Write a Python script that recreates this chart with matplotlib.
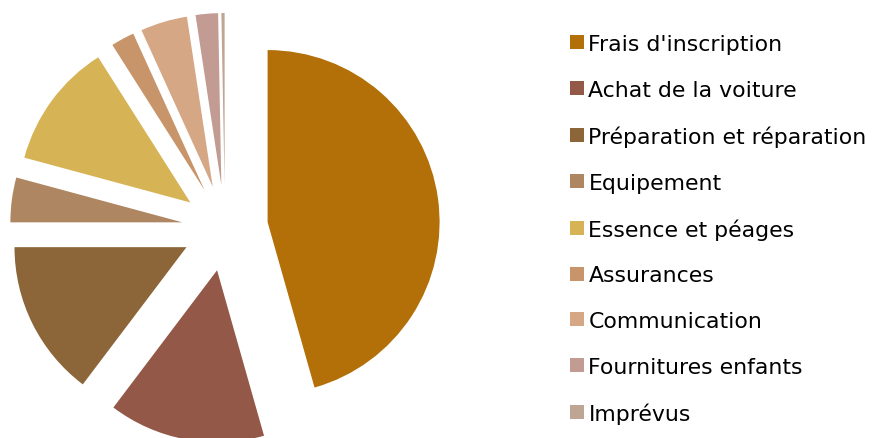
import matplotlib.pyplot as plt
from matplotlib.patches import Patch

# budget shares (%)
categories = ["Frais d'inscription", "Achat de la voiture", "Préparation et réparation",
              "Equipement", "Essence et péages", "Assurances", "Communication",
              "Fournitures enfants", "Imprévus"]
values = [45.6, 14.7, 14.7, 4.2, 11.8, 2.2, 4.4, 2.1, 0.3]
colors = ["#B37009", "#935847", "#8C6639", "#AE8762", "#D6B354",
          "#C8956A", "#D6A784", "#C29C93", "#BFA593"]

plt.rcParams['font.family'] = ['DejaVu Sans']

fig = plt.figure(figsize=(8.74, 4.39), dpi=100)
ax = fig.add_axes([0, 0, 1, 1])

wedges, _ = ax.pie(values, colors=colors, startangle=90, counterclock=False,
                   explode=[0.25] * len(values), radius=1,
                   wedgeprops=dict(linewidth=0))

# pie centre at ~(225, 229) px, radius ~172 px
ax.set_aspect('auto')
ax.set_xlim(-225 / 172, (874 - 225) / 172)
ax.set_ylim(-(439 - 229) / 172, 229 / 172)
ax.axis('off')

handles = [Patch(facecolor=c, edgecolor='none') for c in colors]
fig.legend(handles, categories, loc='upper left',
           bbox_to_anchor=(570 / 874, 1 - 35 / 439), frameon=False,
           fontsize=15.8, handlelength=0.62, handleheight=0.62,
           handletextpad=0.22, labelspacing=1.17, borderpad=0, borderaxespad=0)

fig.savefig("out.png", dpi=100)
